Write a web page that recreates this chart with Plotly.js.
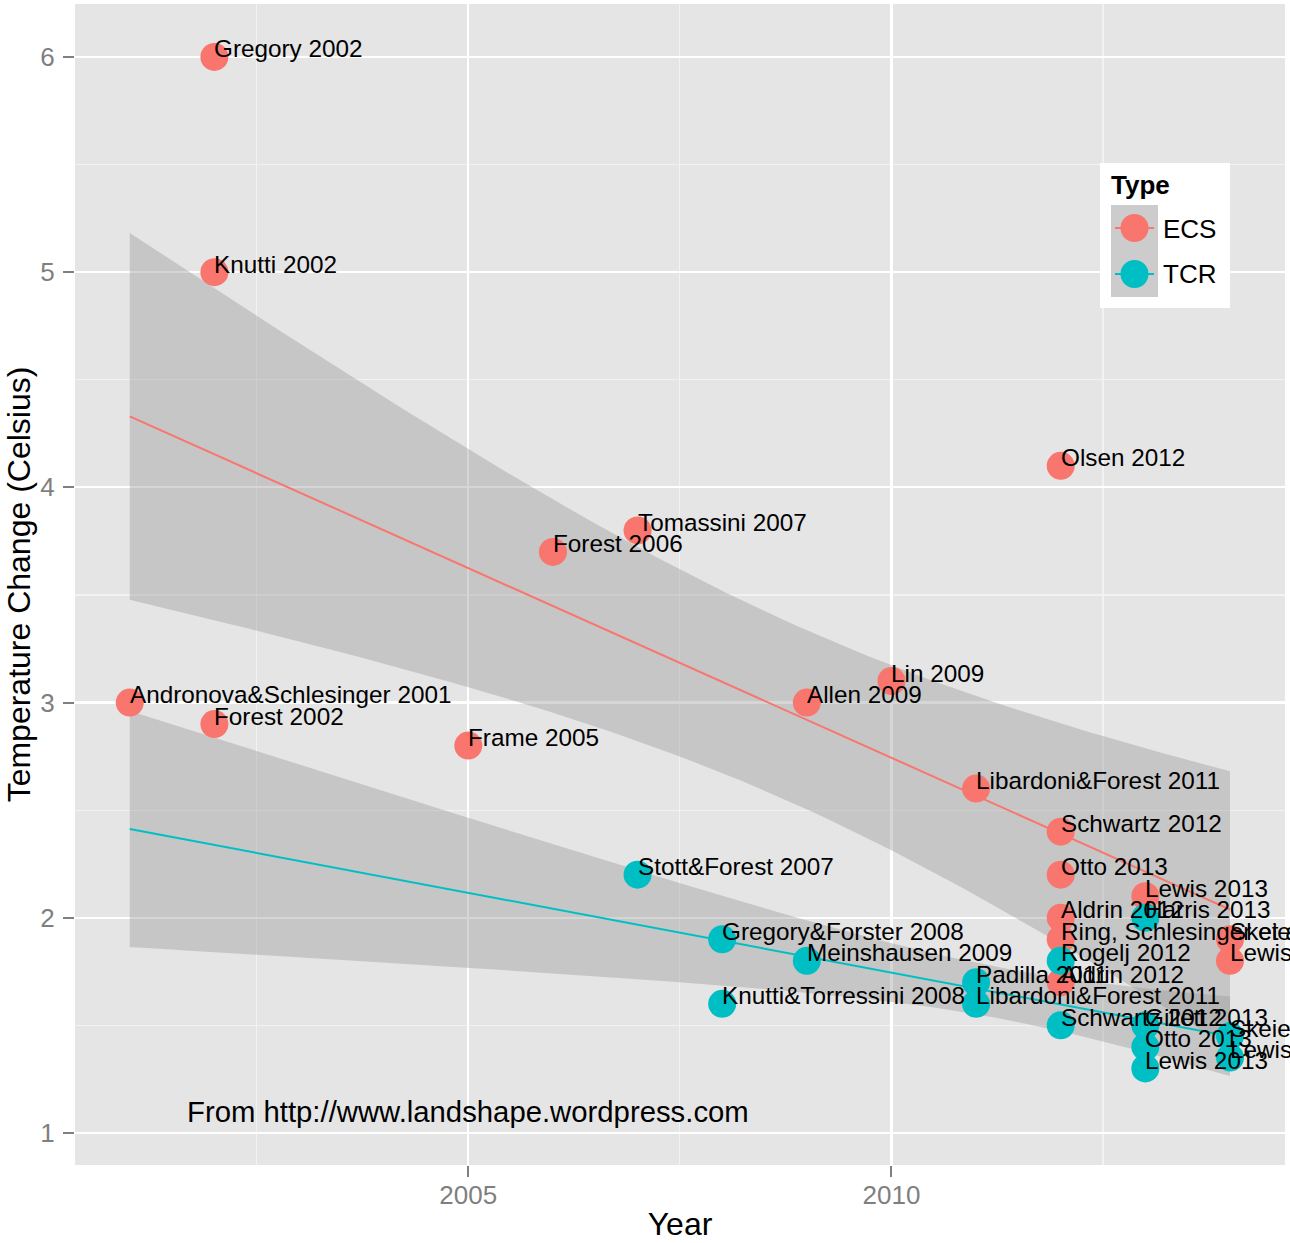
<!DOCTYPE html>
<html><head><meta charset="utf-8">
<script src="https://cdn.plot.ly/plotly-3.0.1.min.js"></script>
<style>body{margin:0;background:#fff}#chart{width:1290px;height:1243px}</style>
</head><body><div id="chart"></div>
<script>
// ---- data ----
const ecsYears  = [2001,2002,2002,2002,2005,2006,2007,2009,2010,2011,2012,2012,2012,2012,2012,2012,2013,2014,2014];
const ecsValues = [3.0, 6.0, 5.0, 2.9, 2.8, 3.7, 3.8, 3.0, 3.1, 2.6, 4.1, 2.4, 2.2, 2.0, 1.9, 1.7, 2.1, 1.9, 1.8];
const ecsLabels = ["Andronova&Schlesinger 2001","Gregory 2002","Knutti 2002","Forest 2002","Frame 2005","Forest 2006",
  "Tomassini 2007","Allen 2009","Lin 2009","Libardoni&Forest 2011","Olsen 2012","Schwartz 2012","Otto 2013",
  "Aldrin 2012","Ring, Schlesinger et al 2012","Aldrin 2012","Lewis 2013","Skeie 2014","Lewis 2014"];
const tcrYears  = [2007,2008,2008,2009,2011,2011,2012,2012,2013,2013,2013,2013,2014,2014];
const tcrValues = [2.2, 1.9, 1.6, 1.8, 1.7, 1.6, 1.8, 1.5, 2.0, 1.5, 1.4, 1.3, 1.45,1.35];
const tcrLabels = ["Stott&Forest 2007","Gregory&Forster 2008","Knutti&Torressini 2008","Meinshausen 2009",
  "Padilla 2011","Libardoni&Forest 2011","Rogelj 2012","Schwartz 2012","Harris 2013","Gillett 2013",
  "Otto 2013","Lewis 2013","Skeie 2014","Lewis 2014"];
const typeNames = ["ECS","TCR"];
const typeColors = ["#F8766D","#00BFC4"];
const sourceNote = "From http://www.landshape.wordpress.com";
const sourceX = 2005, sourceY = 1.1;

// ---- statistics for lm smoother with 95% CI ----
function lgamma(z){
  const g=7, c=[0.99999999999980993,676.5203681218851,-1259.1392167224028,771.32342877765313,
    -176.61502916214059,12.507343278686905,-0.13857109526572012,9.9843695780195716e-6,1.5056327351493116e-7];
  if(z<0.5) return Math.log(Math.PI/Math.abs(Math.sin(Math.PI*z)))-lgamma(1-z);
  z-=1; let x=c[0]; for(let i=1;i<g+2;i++) x+=c[i]/(z+i);
  const t=z+g+0.5; return 0.5*Math.log(2*Math.PI)+(z+0.5)*Math.log(t)-t+Math.log(x);
}
function tcdf(t,nu){
  const k=Math.exp(lgamma((nu+1)/2)-lgamma(nu/2))/Math.sqrt(nu*Math.PI);
  const n=2000, h=t/n; let s=0;
  for(let i=0;i<=n;i++){const x=i*h; const f=k*Math.pow(1+x*x/nu,-(nu+1)/2); s+=(i===0||i===n)?f:(i%2?4*f:2*f);}
  return 0.5+s*h/3;
}
function tquant(p,nu){let lo=0,hi=20;for(let i=0;i<60;i++){const m=(lo+hi)/2;if(tcdf(m,nu)<p)lo=m;else hi=m;}return (lo+hi)/2;}
function smooth(xs,ys,x0,x1,npts){
  const n=xs.length; const mx=xs.reduce((a,b)=>a+b,0)/n, my=ys.reduce((a,b)=>a+b,0)/n;
  let sxx=0,sxy=0; for(let i=0;i<n;i++){sxx+=(xs[i]-mx)**2; sxy+=(xs[i]-mx)*(ys[i]-my);}
  const b=sxy/sxx, a=my-b*mx; let sse=0; for(let i=0;i<n;i++){sse+=(ys[i]-a-b*xs[i])**2;}
  const s=Math.sqrt(sse/(n-2)), tq=tquant(0.975,n-2);
  const gx=[],fit=[],lo=[],hi=[];
  for(let i=0;i<npts;i++){const x=x0+(x1-x0)*i/(npts-1); const f=a+b*x; const se=s*Math.sqrt(1/n+(x-mx)**2/sxx);
    gx.push(x);fit.push(f);lo.push(f-tq*se);hi.push(f+tq*se);}
  return {gx,fit,lo,hi};
}
const allYears = ecsYears.concat(tcrYears);
const xMin = Math.min(...allYears), xMax = Math.max(...allYears);
const groups = [[ecsYears,ecsValues,ecsLabels],[tcrYears,tcrValues,tcrLabels]];

const traces = [];
groups.forEach((g,k)=>{
  const sm = smooth(g[0],g[1],xMin,xMax,80);
  traces.push({type:'scatter',mode:'lines',x:sm.gx.concat(sm.gx.slice().reverse()),
    y:sm.hi.concat(sm.lo.slice().reverse()),fill:'toself',fillcolor:'rgba(153,153,153,0.4)',
    line:{width:0},hoverinfo:'skip',showlegend:false});
  traces.push({type:'scatter',mode:'lines',x:sm.gx,y:sm.fit,line:{color:typeColors[k],width:2},
    hoverinfo:'skip',showlegend:false});
});
groups.forEach((g,k)=>{
  traces.push({type:'scatter',mode:'markers',name:typeNames[k],x:g[0],y:g[1],text:g[2],
    marker:{color:typeColors[k],size:28,line:{width:0}},showlegend:false});
});

const FONT = 'Liberation Sans, Arial, Helvetica, sans-serif';
const annotations = [];
groups.forEach(g=>{
  g[0].forEach((x,i)=>{
    annotations.push({x:x,y:g[1][i],xref:'x',yref:'y',text:g[2][i],showarrow:false,
      xanchor:'left',yanchor:'middle',xshift:-2,yshift:8,font:{family:FONT,size:24.3,color:'#000'}});
  });
});
annotations.push({x:sourceX,y:sourceY,xref:'x',yref:'y',text:sourceNote,showarrow:false,
  xanchor:'center',yanchor:'middle',font:{family:FONT,size:29.3,color:'#000'}});

// ---- manual ggplot-style legend ----
const M={l:75,r:5,t:4,b:78}, W=1290, H=1243, PW=W-M.l-M.r, PH=H-M.t-M.b;
const px=v=>(v-M.l)/PW, py=v=>1-(v-M.t)/PH;
const shapes=[];
shapes.push({type:'rect',xref:'paper',yref:'paper',x0:px(1100),x1:px(1230),y0:py(308),y1:py(163),
  fillcolor:'#ffffff',line:{width:0},layer:'above'});
const keyTops=[205,251];
typeNames.forEach((nm,k)=>{
  const t=keyTops[k], cy=t+23;
  shapes.push({type:'rect',xref:'paper',yref:'paper',x0:px(1111),x1:px(1158),y0:py(t+46),y1:py(t),
    fillcolor:'#CCCCCC',line:{width:0},layer:'above'});
  shapes.push({type:'line',xref:'paper',yref:'paper',x0:px(1115),x1:px(1154),y0:py(cy),y1:py(cy),
    line:{color:typeColors[k],width:2},layer:'above'});
  shapes.push({type:'circle',xref:'paper',yref:'paper',xsizemode:'pixel',ysizemode:'pixel',
    xanchor:px(1134.5),yanchor:py(cy),x0:-14,x1:14,y0:-14,y1:14,fillcolor:typeColors[k],line:{width:0},layer:'above'});
  annotations.push({xref:'paper',yref:'paper',x:px(1161),y:py(cy+0.5),text:nm,showarrow:false,
    xanchor:'left',yanchor:'middle',font:{family:FONT,size:26,color:'#000'}});
});
annotations.push({xref:'paper',yref:'paper',x:px(1109),y:py(185),text:'<b>Type</b>',showarrow:false,
  xanchor:'left',yanchor:'middle',font:{family:FONT,size:26,color:'#000'}});

const axisCommon = {
  showline:false, zeroline:false, ticks:'outside', ticklen:11, tickwidth:2, tickcolor:'#7F7F7F',
  tickfont:{family:FONT,size:26,color:'#7F7F7F'}, gridcolor:'#FFFFFF', gridwidth:2.2
};
const layout = {
  width:W, height:H, margin:M, paper_bgcolor:'#FFFFFF', plot_bgcolor:'#E5E5E5', showlegend:false,
  xaxis:Object.assign({}, axisCommon, {range:[2000.353,2014.65], tick0:2000, dtick:5, ticklabelstandoff:-4,
    minor:{dtick:2.5, showgrid:true, gridcolor:'#F2F2F2', gridwidth:1.2, ticks:''},
    title:{text:'Year', font:{family:FONT,size:32,color:'#000'}, standoff:3}}),
  yaxis:Object.assign({}, axisCommon, {range:[0.851,6.246], tick0:0, dtick:1, ticklabelstandoff:3,
    minor:{dtick:0.5, showgrid:true, gridcolor:'#F2F2F2', gridwidth:1.2, ticks:''},
    title:{text:'Temperature Change (Celsius)', font:{family:FONT,size:32,color:'#000'}, standoff:0}}),
  annotations:annotations, shapes:shapes, hovermode:'closest'
};
Plotly.newPlot('chart', traces, layout, {displayModeBar:false, staticPlot:true});
</script></body></html>
